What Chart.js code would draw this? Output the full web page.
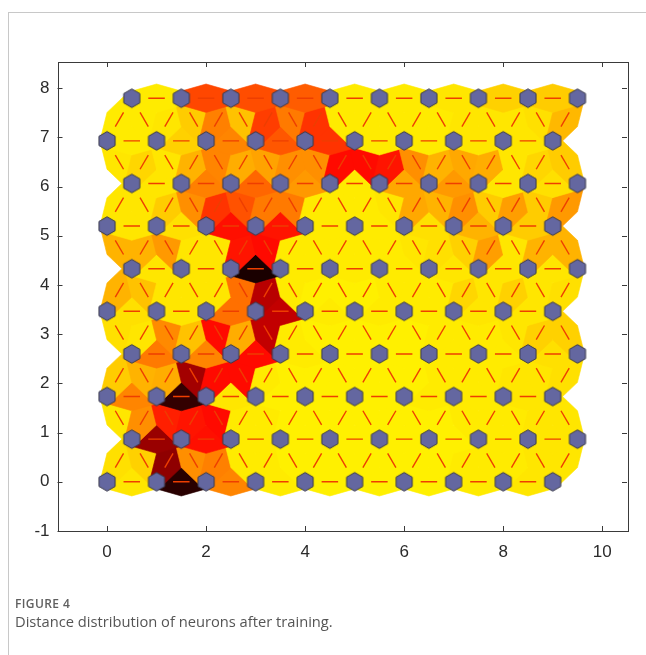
<!DOCTYPE html>
<html>
<head>
<meta charset="utf-8">
<script src="https://cdn.jsdelivr.net/npm/chart.js@4.4.1/dist/chart.umd.min.js"></script>
<style>
  html, body { margin: 0; padding: 0; background: #fff; }
  #wrap { position: relative; width: 646px; height: 655px; overflow: hidden; }
  #frame { position: absolute; left: 8px; top: 12px; right: 0; bottom: 0;
           border-left: 1px solid #c8c8c8; border-top: 1px solid #c8c8c8; }
  canvas { position: absolute; left: 0; top: 0; }
  .fig { position: absolute; left: 15px; top: 595px; font: 600 12px "Open Sans", sans-serif;
         color: #5f5f5f; letter-spacing: 0.4px; }
  .cap { position: absolute; left: 15px; top: 611px; font: 14.7px "Open Sans", sans-serif; color: #555; }
</style>
</head>
<body>
<div id="wrap">
  <div id="frame"></div>
  <canvas id="somChart" width="646" height="655"></canvas>
  <div class="fig">FIGURE 4</div>
  <div class="cap">Distance distribution of neurons after training.</div>
</div>
<script>
// 10x10 hexagonal SOM layer
const gridCols = 10;
const gridRows = 10;

const xTicks = [0, 2, 4, 6, 8, 10];
const yTicks = [-1, 0, 1, 2, 3, 4, 5, 6, 7, 8];

// normalised distance between horizontal neighbours, one list per row (left to right)
const rowDist = [
  [0.05, 0.92, 0.24, 0.04, 0.03, 0.03, 0.03, 0.04, 0.05],
  [0.70, 0.47, 0.04, 0.03, 0.03, 0.03, 0.03, 0.04, 0.05],
  [0.24, 0.90, 0.05, 0.03, 0.03, 0.03, 0.04, 0.04, 0.05],
  [0.26, 0.24, 0.48, 0.04, 0.03, 0.03, 0.04, 0.04, 0.06],
  [0.06, 0.05, 0.28, 0.62, 0.04, 0.04, 0.04, 0.05, 0.05],
  [0.05, 0.05, 0.95, 0.04, 0.04, 0.04, 0.05, 0.05, 0.05],
  [0.05, 0.06, 0.47, 0.46, 0.04, 0.04, 0.06, 0.15, 0.10],
  [0.05, 0.25, 0.30, 0.20, 0.04, 0.17, 0.20, 0.05, 0.06],
  [0.04, 0.09, 0.24, 0.33, 0.40, 0.04, 0.04, 0.05, 0.05],
  [0.04, 0.36, 0.35, 0.32, 0.04, 0.04, 0.05, 0.09, 0.10]
];

// normalised distance between diagonal neighbours, one list per gap between rows
// (edge midpoints from x = 0.25 to 9.25)
const diagDist = [
  [0.06, 0.09, 0.72, 0.22, 0.25, 0.04, 0.04, 0.03, 0.03, 0.03, 0.03, 0.03, 0.03, 0.03, 0.04, 0.04, 0.04, 0.05, 0.05],
  [0.05, 0.22, 0.44, 0.46, 0.48, 0.04, 0.04, 0.03, 0.03, 0.03, 0.03, 0.03, 0.03, 0.03, 0.04, 0.04, 0.04, 0.05, 0.05],
  [0.10, 0.15, 0.16, 0.68, 0.48, 0.48, 0.04, 0.03, 0.03, 0.03, 0.03, 0.03, 0.03, 0.04, 0.04, 0.04, 0.05, 0.05, 0.06],
  [0.06, 0.05, 0.23, 0.12, 0.48, 0.16, 0.62, 0.04, 0.03, 0.03, 0.03, 0.03, 0.03, 0.04, 0.04, 0.04, 0.05, 0.09, 0.09],
  [0.15, 0.12, 0.05, 0.05, 0.05, 0.28, 0.64, 0.04, 0.03, 0.03, 0.03, 0.04, 0.04, 0.04, 0.08, 0.05, 0.09, 0.05, 0.06],
  [0.15, 0.15, 0.20, 0.05, 0.05, 0.46, 0.48, 0.04, 0.04, 0.04, 0.04, 0.04, 0.05, 0.06, 0.09, 0.19, 0.05, 0.15, 0.15],
  [0.05, 0.05, 0.10, 0.22, 0.40, 0.34, 0.26, 0.26, 0.04, 0.04, 0.04, 0.05, 0.17, 0.15, 0.22, 0.10, 0.19, 0.10, 0.20],
  [0.05, 0.08, 0.05, 0.15, 0.24, 0.16, 0.18, 0.22, 0.22, 0.48, 0.48, 0.46, 0.22, 0.15, 0.17, 0.16, 0.05, 0.08, 0.10],
  [0.04, 0.04, 0.05, 0.10, 0.25, 0.12, 0.38, 0.26, 0.40, 0.04, 0.04, 0.04, 0.04, 0.04, 0.05, 0.05, 0.05, 0.06, 0.14]
];

const rowStep = Math.sqrt(0.75);

function neuronPos(c, r) {
  return { x: c + (r % 2) * 0.5, y: r * rowStep };
}

// yellow (near) -> orange -> red -> black (far)
function distColor(t) {
  if (t < 0.5) return 'rgb(255,' + Math.round(255 * (1 - 2 * t)) + ',0)';
  return 'rgb(' + Math.round(255 * (2 - 2 * t)) + ',0,0)';
}

// neighbour list in the same order the toolbox walks it
const edges = [];
for (let r = 0; r < gridRows; r++) {
  for (let c = 0; c < gridCols; c++) {
    const a = neuronPos(c, r);
    if (c < gridCols - 1) edges.push({ a, b: neuronPos(c + 1, r), d: rowDist[r][c] });
    if (r < gridRows - 1) {
      if (r % 2 === 0) {
        if (c > 0) edges.push({ a, b: neuronPos(c - 1, r + 1), d: diagDist[r][2 * c - 1] });
        edges.push({ a, b: neuronPos(c, r + 1), d: diagDist[r][2 * c] });
      } else {
        edges.push({ a, b: neuronPos(c, r + 1), d: diagDist[r][2 * c] });
        if (c < gridCols - 1) edges.push({ a, b: neuronPos(c + 1, r + 1), d: diagDist[r][2 * c + 1] });
      }
    }
  }
}

const neurons = [];
for (let r = 0; r < gridRows; r++) {
  for (let c = 0; c < gridCols; c++) neurons.push(neuronPos(c, r));
}

// edge patch in (along, across) units
const z = Math.sqrt(0.75) / 6;
const tileShape = [[-0.5, z], [0, 2 * z], [0.5, z], [0.5, -z], [0, -2 * z], [-0.5, -z]];

function hexImage(rad) {
  const w = 20, h = 22;
  const cv = document.createElement('canvas');
  cv.width = w; cv.height = h;
  const g = cv.getContext('2d');
  g.translate(w / 2, h / 2);
  g.beginPath();
  for (let i = 0; i < 6; i++) {
    const a = Math.PI / 2 + i * Math.PI / 3;
    g.lineTo(rad * Math.cos(a), rad * Math.sin(a));
  }
  g.closePath();
  g.fillStyle = '#6467a0';
  g.fill();
  g.strokeStyle = '#3a3a4a';
  g.lineWidth = 1;
  g.stroke();
  return cv;
}

const somPlugin = {
  id: 'somTiles',
  beforeDatasetsDraw(chart) {
    const { ctx, chartArea, scales: { x, y } } = chart;
    ctx.save();
    ctx.beginPath();
    ctx.rect(chartArea.left, chartArea.top, chartArea.width, chartArea.height);
    ctx.clip();
    edges.forEach(e => {
      const mx = (e.a.x + e.b.x) / 2, my = (e.a.y + e.b.y) / 2;
      const dx = e.b.x - e.a.x, dy = e.b.y - e.a.y;
      ctx.beginPath();
      tileShape.forEach(([u, v], i) => {
        const px = x.getPixelForValue(mx + u * dx - v * dy);
        const py = y.getPixelForValue(my + u * dy + v * dx);
        if (i) ctx.lineTo(px, py); else ctx.moveTo(px, py);
      });
      ctx.closePath();
      ctx.fillStyle = distColor(e.d);
      ctx.strokeStyle = ctx.fillStyle;
      ctx.lineWidth = 0.6;
      ctx.fill();
      ctx.stroke();
    });
    // red neighbour lines over the middle third of each edge
    ctx.strokeStyle = 'rgb(238,62,0)';
    ctx.lineWidth = 1.4;
    edges.forEach(e => {
      const dx = e.b.x - e.a.x, dy = e.b.y - e.a.y;
      ctx.beginPath();
      ctx.moveTo(x.getPixelForValue(e.a.x + dx / 3), y.getPixelForValue(e.a.y + dy / 3));
      ctx.lineTo(x.getPixelForValue(e.a.x + 2 * dx / 3), y.getPixelForValue(e.a.y + 2 * dy / 3));
      ctx.stroke();
    });
    ctx.restore();
  },
  afterDraw(chart) {
    const { ctx, chartArea: ca, scales: { x, y } } = chart;
    const tick = 5;
    ctx.save();
    ctx.strokeStyle = '#3a3a3a';
    ctx.lineWidth = 1;
    ctx.strokeRect(Math.round(ca.left) + 0.5, Math.round(ca.top) + 0.5,
                   Math.round(ca.width), Math.round(ca.height));
    ctx.beginPath();
    xTicks.forEach(v => {
      const px = Math.round(x.getPixelForValue(v)) + 0.5;
      ctx.moveTo(px, ca.bottom); ctx.lineTo(px, ca.bottom - tick);
      ctx.moveTo(px, ca.top); ctx.lineTo(px, ca.top + tick);
    });
    yTicks.forEach(v => {
      const py = Math.round(y.getPixelForValue(v)) + 0.5;
      ctx.moveTo(ca.left, py); ctx.lineTo(ca.left + tick, py);
      ctx.moveTo(ca.right, py); ctx.lineTo(ca.right - tick, py);
    });
    ctx.stroke();
    ctx.restore();
  }
};

const tickFont = { family: '"Liberation Sans", Arial, sans-serif', size: 17 };

new Chart(document.getElementById('somChart'), {
  type: 'scatter',
  data: {
    datasets: [{
      data: neurons,
      pointStyle: hexImage(9.3),
      pointRadius: 9,
      clip: false
    }]
  },
  options: {
    responsive: false,
    animation: false,
    events: [],
    layout: { padding: { top: 62, right: 19, bottom: 84, left: 0 } },
    plugins: { legend: { display: false }, tooltip: { enabled: false } },
    scales: {
      x: {
        type: 'linear', min: -1, max: 10.5,
        afterBuildTicks: s => { s.ticks = xTicks.map(v => ({ value: v })); },
        afterFit: s => { s.height = 40; },
        grid: { display: false, drawTicks: false },
        border: { display: false },
        ticks: { padding: 11, font: tickFont, color: '#2b2b2b', maxRotation: 0 }
      },
      y: {
        type: 'linear', min: -1, max: 8.53,
        afterBuildTicks: s => { s.ticks = yTicks.map(v => ({ value: v })); },
        afterFit: s => { s.width = 57.5; },
        grid: { display: false, drawTicks: false },
        border: { display: false },
        ticks: { padding: 8, font: tickFont, color: '#2b2b2b' }
      }
    }
  },
  plugins: [somPlugin]
});
</script>
</body>
</html>
